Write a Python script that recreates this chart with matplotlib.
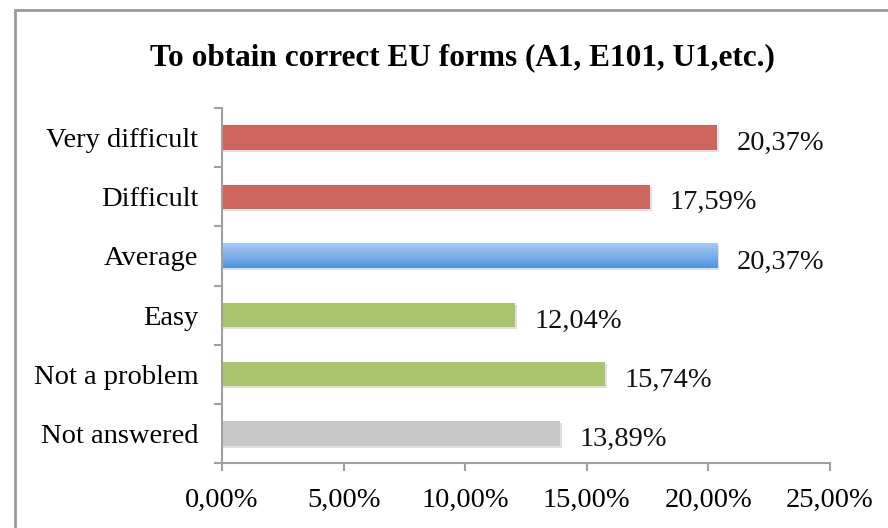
import matplotlib
matplotlib.use("Agg")
import matplotlib.pyplot as plt
import numpy as np
from matplotlib.patches import Rectangle
from matplotlib.colors import LinearSegmentedColormap
from matplotlib.transforms import ScaledTranslation

categories = ["Very difficult", "Difficult", "Average", "Easy", "Not a problem", "Not answered"]
values = [20.37, 17.59, 20.37, 12.04, 15.74, 13.89]
value_labels = ["20,37%", "17,59%", "20,37%", "12,04%", "15,74%", "13,89%"]
colors = ["#CD665F", "#CD665F", "gradient", "#A9C56B", "#A9C56B", "#C8C8C8"]
xticks = [0, 5, 10, 15, 20, 25]
xtick_labels = ["0,00%", "5,00%", "10,00%", "15,00%", "20,00%", "25,00%"]
title = "To obtain correct EU forms (A1, E101, U1,etc.)"

plt.rcParams['font.family'] = ['Liberation Serif', 'DejaVu Serif']

W, H = 888, 528
fig = plt.figure(figsize=(W/100, H/100), dpi=100)
fig.patch.set_facecolor("white")

# outer frame
fig.patches.append(Rectangle((15/W, -0.1), 1.2, (H-10)/H + 0.1, transform=fig.transFigure,
                             fill=False, edgecolor="#9A9A9A", linewidth=2.0, zorder=0))

ax = fig.add_axes([222/W, (H-463)/H, (830-222)/W, (463-108)/H])
n = len(categories)
ys = np.arange(n)[::-1]
bh = 0.41
fs = 20.5
down = ScaledTranslation(0, -3/100, fig.dpi_scale_trans)

for y, v, c, lab in zip(ys, values, colors, value_labels):
    # shadow
    ax.barh(y - 0.035, v + 0.08, height=bh, color="#000000", alpha=0.12, zorder=1)
    if c == "gradient":
        grad = np.linspace(0, 1, 100).reshape(-1, 1)
        cmap = LinearSegmentedColormap.from_list("g", ["#A9CBF6", "#5095DB"])
        ax.imshow(grad, extent=(0, v, y - bh/2, y + bh/2), origin="lower",
                  cmap=cmap.reversed(), aspect="auto", zorder=2)
    else:
        ax.barh(y, v, height=bh, color=c, zorder=2)
    ax.text(v + 0.8, y, lab, va="center_baseline", ha="left", fontsize=fs, color="#111111",
            transform=ax.transData + down)

ax.set_xlim(0, 25)
ax.set_ylim(-0.5, n - 0.5)
ax.set_xticks(xticks)
ax.set_xticklabels(xtick_labels, fontsize=fs)
ax.set_yticks(ys)
ax.set_yticklabels(categories, fontsize=fs, va="center_baseline")
for t in ax.get_yticklabels():
    t.set_transform(t.get_transform() + down)
ax.set_yticks(np.arange(-0.5, n, 1), minor=True)
ax.tick_params(axis="y", which="major", length=0, pad=17)
ax.tick_params(axis="y", which="minor", length=6, width=1.5, color="#A0A0A0")
ax.tick_params(axis="x", which="major", length=6, width=1.5, color="#A0A0A0", pad=12)
for s in ["top", "right"]:
    ax.spines[s].set_visible(False)
for s in ["left", "bottom"]:
    ax.spines[s].set_color("#A0A0A0")
    ax.spines[s].set_linewidth(1.5)
ax.set_facecolor("none")

fig.text(462/W, 1 - 58/H, title, ha="center", va="center", fontsize=22.5, fontweight="bold")

fig.savefig("out.png", dpi=100, facecolor="white")
